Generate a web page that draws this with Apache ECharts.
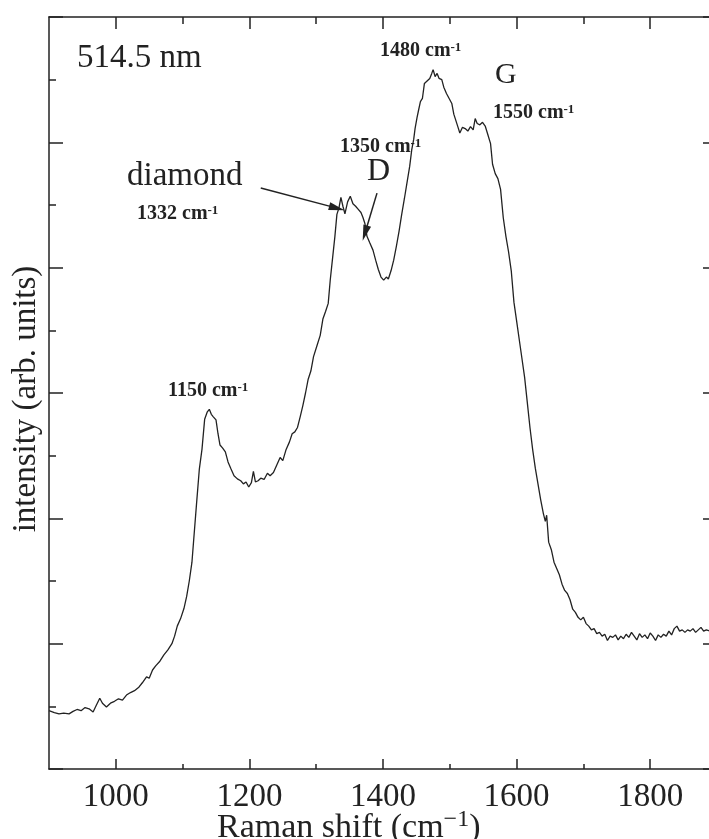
<!DOCTYPE html>
<html>
<head>
<meta charset="utf-8">
<script src="https://cdn.jsdelivr.net/npm/echarts@6/dist/echarts.min.js"></script>
<style>
  html, body { margin: 0; padding: 0; background: #fff; overflow: hidden; }
  #chart { width: 717px; height: 839px; }
</style>
</head>
<body>
<div id="chart"></div>
<script>
// Raman spectrum (x in cm-1, y in arb. units, 0..12)
var ramanShift = [
  900, 908, 915, 922, 930, 936, 942, 948, 954, 960, 966, 971, 976, 980, 986, 992, 998,
  1004, 1010, 1016, 1022, 1028, 1034, 1040, 1046, 1050, 1055, 1060, 1066, 1072, 1078, 1084,
  1088, 1092, 1097, 1102, 1106, 1110, 1114, 1117, 1121, 1125, 1129, 1133, 1137, 1140, 1143,
  1146, 1150, 1153, 1156, 1160, 1164, 1168, 1172, 1177, 1182, 1187, 1191, 1195, 1199, 1203,
  1206, 1209, 1213, 1217, 1222, 1227, 1231, 1236, 1241, 1246, 1250, 1255, 1260, 1264, 1268,
  1272, 1276, 1280, 1284, 1288, 1292, 1296, 1301, 1306, 1310, 1314, 1318, 1321, 1324, 1328,
  1331, 1334, 1337, 1340, 1343, 1347, 1351, 1355, 1359, 1363, 1367, 1370, 1373, 1376, 1380,
  1385, 1389, 1393, 1397, 1401, 1405, 1408, 1412, 1416, 1420, 1424, 1428, 1432, 1436, 1440,
  1443, 1446, 1448, 1451, 1453, 1456, 1459, 1462, 1466, 1470, 1473, 1475, 1478, 1481, 1484,
  1488, 1491, 1495, 1499, 1503, 1506, 1509, 1512, 1515, 1519, 1523, 1527, 1531, 1535, 1538,
  1541, 1545, 1549, 1553, 1557, 1561, 1564, 1568, 1572, 1576, 1580, 1584, 1588, 1592, 1596,
  1600, 1604, 1608, 1612, 1616, 1620, 1624, 1628, 1632, 1636, 1640, 1643, 1645, 1648, 1652,
  1656, 1660, 1664, 1668, 1672, 1676, 1680, 1684, 1688, 1692, 1696, 1700, 1704, 1708, 1712,
  1716, 1720, 1724, 1728, 1732, 1736, 1740, 1744, 1748, 1752, 1756, 1760, 1764, 1768, 1772,
  1776, 1780, 1784, 1788, 1792, 1796, 1800, 1804, 1808, 1812, 1816, 1820, 1824, 1828, 1832,
  1836, 1840, 1844, 1848, 1852, 1856, 1860, 1864, 1868, 1872, 1876, 1880, 1884, 1890, 1900
];
var intensity = [
  0.93, 0.90, 0.88, 0.89, 0.88, 0.92, 0.95, 0.93, 0.98, 0.96, 0.91, 1.02, 1.13, 1.05, 0.99, 1.05, 1.08,
  1.12, 1.10, 1.18, 1.22, 1.25, 1.30, 1.38, 1.47, 1.45, 1.58, 1.65, 1.72, 1.82, 1.90, 2.00,
  2.12, 2.28, 2.40, 2.56, 2.75, 3.00, 3.30, 3.71, 4.25, 4.78, 5.10, 5.58, 5.70, 5.74, 5.66,
  5.62, 5.57, 5.35, 5.17, 5.12, 5.06, 4.90, 4.80, 4.68, 4.63, 4.60, 4.55, 4.58, 4.50, 4.57,
  4.75, 4.58, 4.60, 4.64, 4.62, 4.72, 4.68, 4.73, 4.85, 4.97, 4.92, 5.10, 5.22, 5.35, 5.38,
  5.45, 5.62, 5.80, 6.00, 6.22, 6.35, 6.58, 6.75, 6.92, 7.18, 7.30, 7.43, 7.80, 8.10, 8.50,
  8.85, 8.95, 9.12, 8.98, 8.86, 9.05, 9.14, 9.02, 8.98, 8.93, 8.88, 8.80, 8.70, 8.50, 8.40,
  8.28, 8.12, 7.97, 7.85, 7.80, 7.85, 7.82, 7.95, 8.12, 8.34, 8.58, 8.85, 9.10, 9.36, 9.62,
  9.88, 10.05, 10.22, 10.40, 10.50, 10.65, 10.70, 10.94, 10.98, 11.02, 11.10, 11.16, 11.05, 11.10, 11.02,
  11.00, 10.88, 10.78, 10.70, 10.62, 10.45, 10.35, 10.25, 10.15, 10.24, 10.22, 10.18, 10.25, 10.20, 10.38,
  10.30, 10.28, 10.32, 10.26, 10.12, 9.98, 9.65, 9.50, 9.42, 9.25, 8.80, 8.50, 8.25, 7.95, 7.45,
  7.15, 6.85, 6.55, 6.25, 5.85, 5.45, 5.10, 4.80, 4.55, 4.30, 4.08, 3.95, 4.05, 3.62, 3.50,
  3.30, 3.20, 3.10, 2.95, 2.85, 2.80, 2.70, 2.55, 2.50, 2.42, 2.38, 2.42, 2.32, 2.28, 2.22,
  2.24, 2.16, 2.18, 2.12, 2.15, 2.05, 2.12, 2.10, 2.14, 2.06, 2.12, 2.08, 2.15, 2.10, 2.18,
  2.12, 2.06, 2.16, 2.10, 2.14, 2.08, 2.17, 2.12, 2.05, 2.14, 2.10, 2.15, 2.12, 2.20, 2.14,
  2.24, 2.28, 2.20, 2.22, 2.18, 2.22, 2.20, 2.24, 2.18, 2.22, 2.26, 2.20, 2.22, 2.20, 2.22
];

var xMajorTicks = [1000, 1200, 1400, 1600, 1800];
var xMinorTicks = [1100, 1300, 1500, 1700];

// annotation arrows [from, to] in data coordinates
var diamondArrow = [[1217, 9.27], [1331, 8.95]];
var dArrow = [[1391, 9.19], [1373, 8.55]];

var serif = 'Liberation Serif';
var ink = '#222';

// the frame runs a little past the 709px window, as in the cropped original
var chart = echarts.init(document.getElementById('chart'));

function boldLabel (num, left, top) {
  return {
    text: '{n|' + num + ' cm}{s|-1}',
    left: left,
    top: top,
    padding: 0,
    textStyle: {
      fontWeight: 'bold',
      rich: {
        n: { fontFamily: serif, fontWeight: 'bold', fontSize: 20, lineHeight: 20, color: ink },
        s: { fontFamily: serif, fontWeight: 'bold', fontSize: 13, lineHeight: 13, color: ink, verticalAlign: 'top' }
      }
    }
  }
}

function plainLabel (text, left, top, size) {
  return {
    text: text,
    left: left,
    top: top,
    padding: 0,
    textStyle: { fontFamily: serif, fontWeight: 'normal', fontSize: size, lineHeight: size, color: ink }
  }
}

function xAxisDef (position, ticks, len, showLine, showLabel) {
  return {
    type: 'value',
    position: position,
    min: 900,
    max: 1900,
    axisLine: { show: showLine, onZero: false, lineStyle: { color: ink, width: 1.5 } },
    axisTick: { show: true, inside: true, length: len, customValues: ticks, lineStyle: { color: ink, width: 1.5 } },
    axisLabel: {
      show: showLabel,
      customValues: ticks,
      margin: 12,
      fontFamily: serif,
      fontSize: 33,
      color: ink,
      formatter: function (v) { return String(v) }
    },
    splitLine: { show: false }
  }
}

function yAxisDef (position, withName) {
  var axis = {
    type: 'value',
    position: position,
    min: 0,
    max: 12,
    interval: 2,
    axisLine: { show: true, onZero: false, lineStyle: { color: ink, width: 1.5 } },
    axisTick: { show: true, inside: true, length: 14, lineStyle: { color: ink, width: 1.5 } },
    minorTick: { show: true, splitNumber: 2, length: 7, lineStyle: { color: ink, width: 1.5 } },
    axisLabel: { show: false },
    splitLine: { show: false },
    minorSplitLine: { show: false }
  }
  if (withName) {
    axis.name = 'intensity (arb. units)'
    axis.nameLocation = 'middle'
    axis.nameRotate = 90
    axis.nameGap = 6
    axis.nameTextStyle = { fontFamily: serif, fontSize: 33, color: ink, padding: [0, 12, 0, 0] }
  }
  return axis
}

var option = {
  animation: false,
  backgroundColor: '#fff',
  grid: { left: 49, right: 0, top: 17, bottom: 70 },
  title: [
    plainLabel('514.5 nm', 77, 42, 33),
    plainLabel('diamond', 127, 160, 33),
    plainLabel('G', 495, 60, 30),
    plainLabel('D', 367, 156, 32),
    boldLabel('1332', 137, 204),
    boldLabel('1150', 168, 381),
    boldLabel('1350', 340, 137),
    boldLabel('1480', 380, 41),
    boldLabel('1550', 493, 103),
    {
      text: '{a|Raman shift (cm}{s|\u22121}{a|)}',
      left: 217,
      top: 808,
      padding: 0,
      textStyle: {
        fontWeight: 'normal',
        rich: {
          a: { fontFamily: serif, fontWeight: 'normal', fontSize: 34, lineHeight: 40, color: ink },
          s: { fontFamily: serif, fontWeight: 'normal', fontSize: 24, lineHeight: 24, color: ink, verticalAlign: 'top' }
        }
      }
    }
  ],
  xAxis: [
    xAxisDef('bottom', xMajorTicks, 10, true, true),
    xAxisDef('bottom', xMinorTicks, 5, false, false),
    xAxisDef('top', xMajorTicks, 12, true, false),
    xAxisDef('top', xMinorTicks, 7, false, false)
  ],
  yAxis: [
    yAxisDef('left', true),
    yAxisDef('right', false)
  ],
  series: [{
    type: 'line',
    xAxisIndex: 0,
    yAxisIndex: 0,
    data: ramanShift.map(function (x, i) { return [x, intensity[i]] }),
    showSymbol: false,
    symbol: 'none',
    lineStyle: { color: ink, width: 1.3 },
    silent: true,
    markLine: {
      silent: true,
      symbol: ['none', 'triangle'],
      symbolSize: [8, 16],
      label: { show: false },
      lineStyle: { color: ink, width: 1.5, type: 'solid' },
      emphasis: { disabled: true },
      data: [
        [{ coord: diamondArrow[0] }, { coord: diamondArrow[1] }],
        [{ coord: dArrow[0] }, { coord: dArrow[1] }]
      ]
    }
  }]
}

chart.setOption(option)
</script>
</body>
</html>
